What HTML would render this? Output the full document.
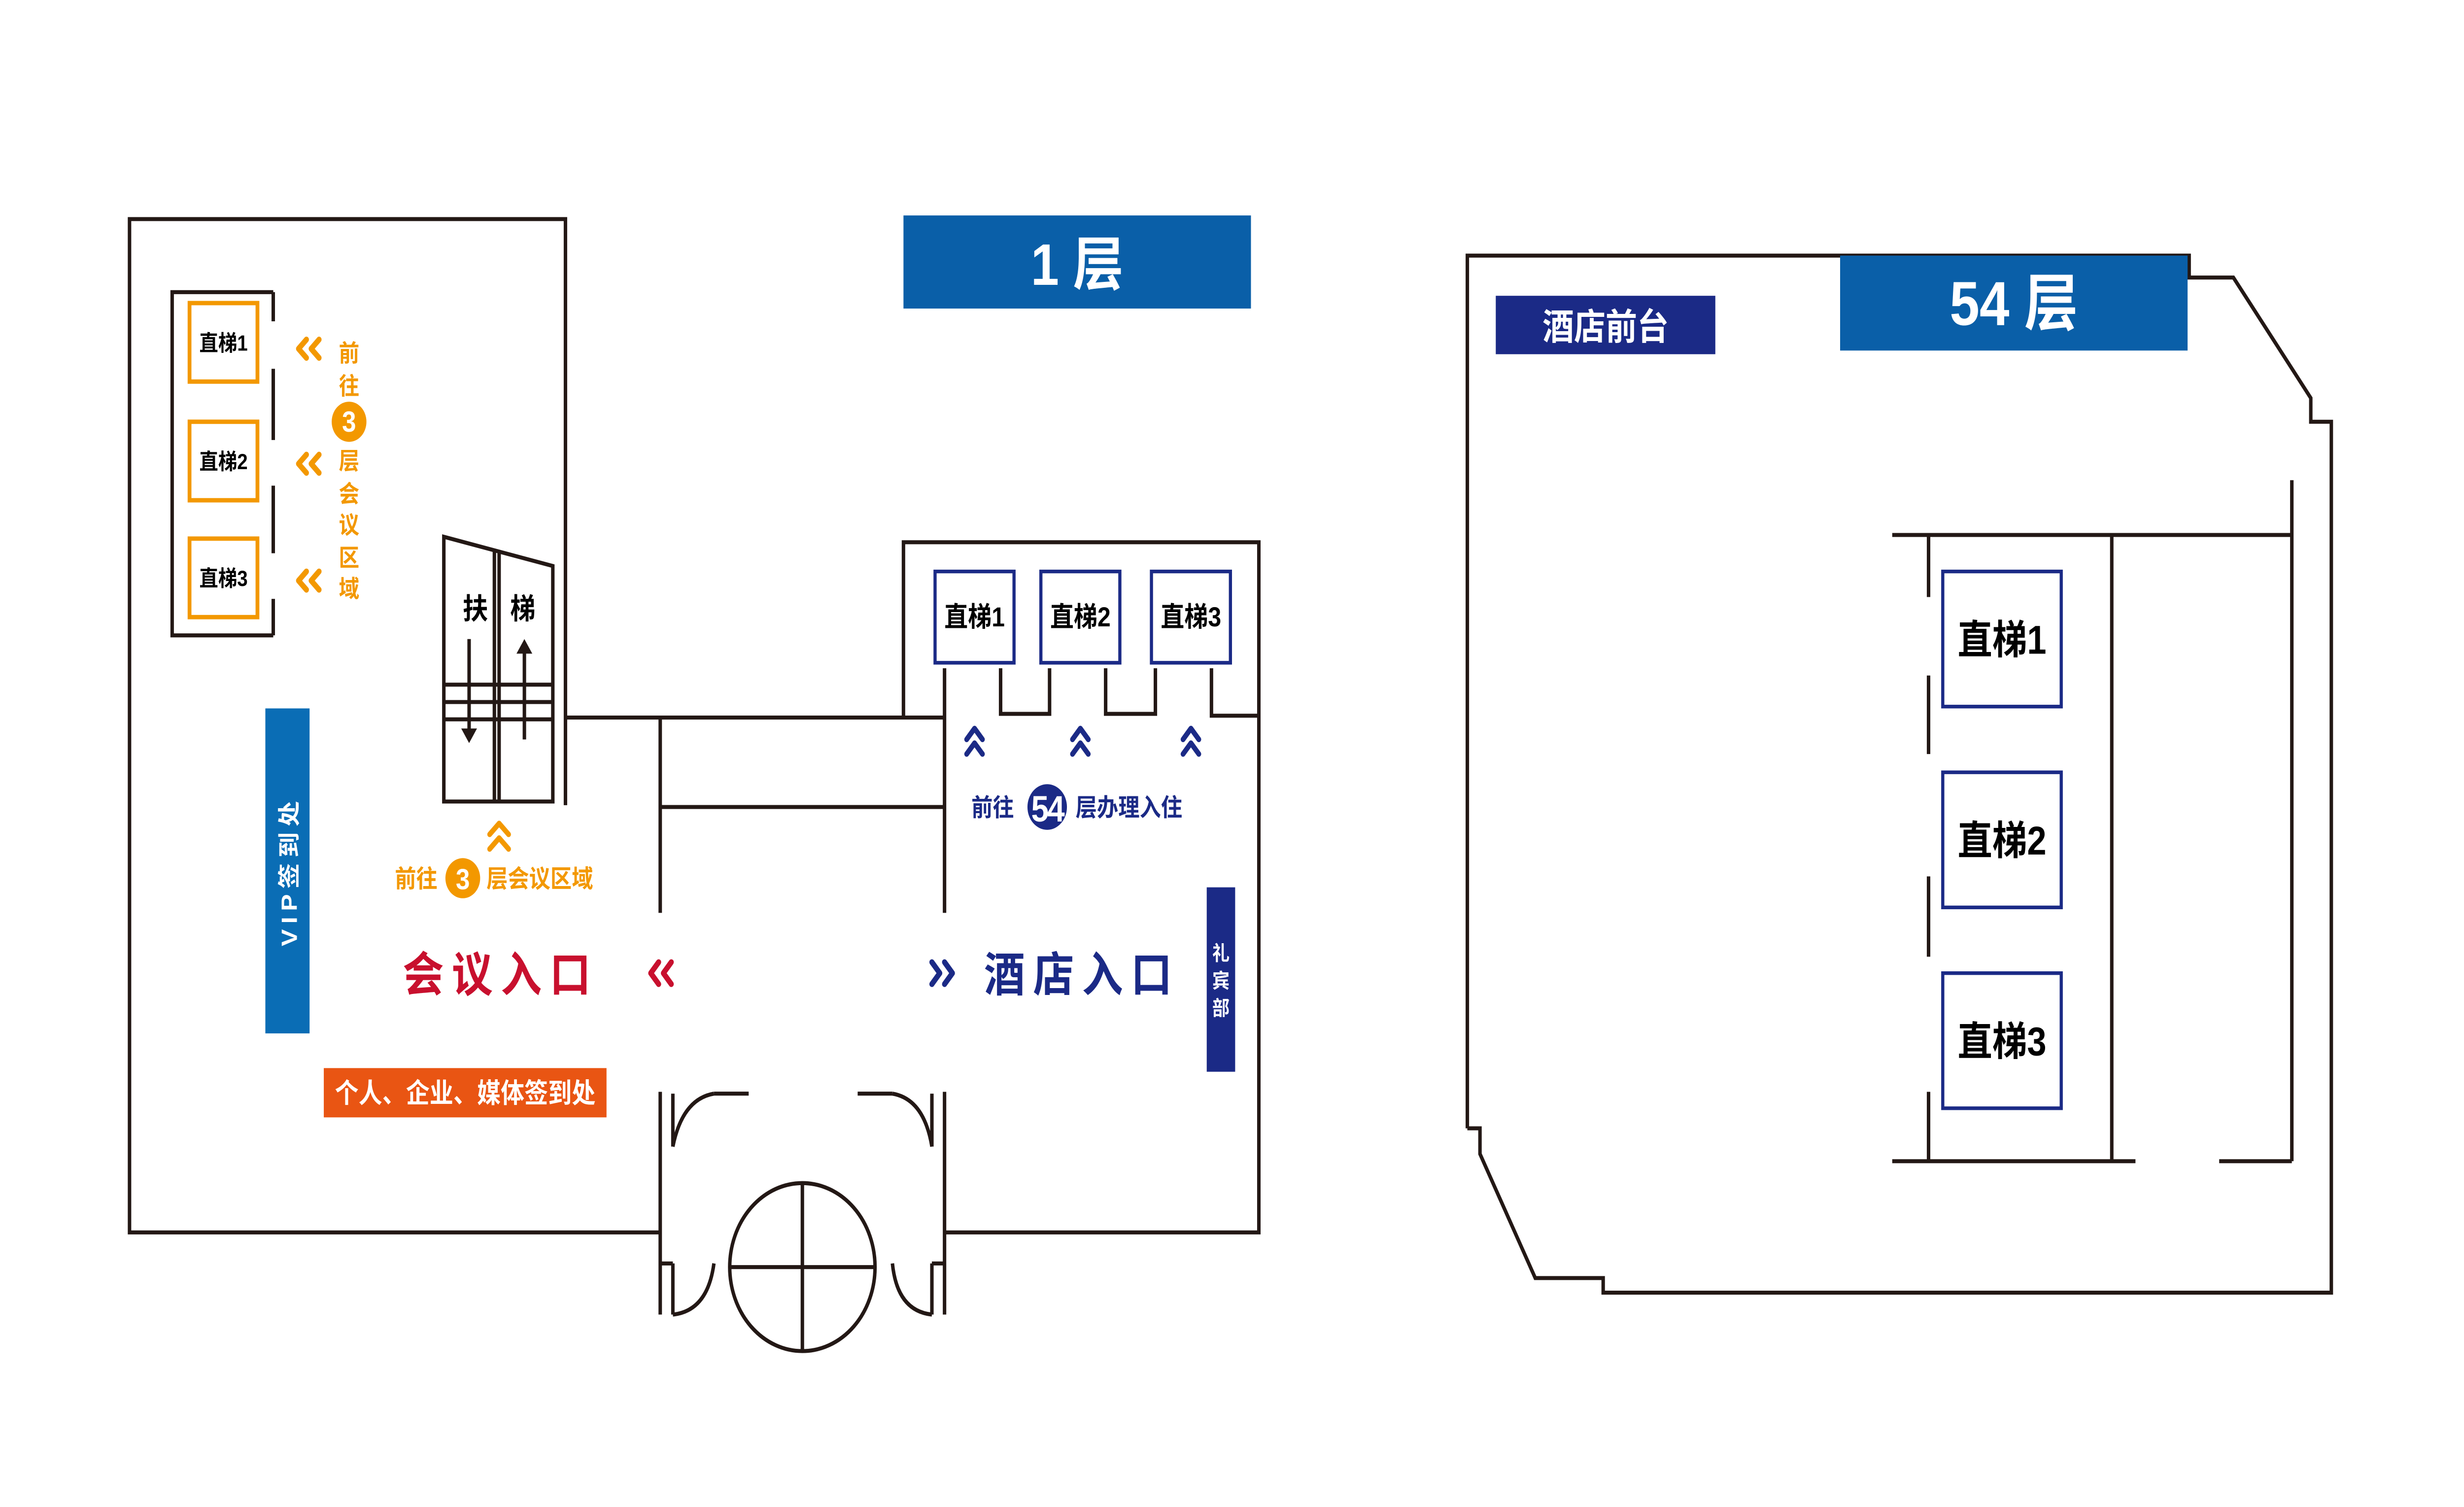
<!DOCTYPE html>
<html><head><meta charset="utf-8"><style>
html,body{margin:0;padding:0;background:#fff;width:100%;height:100%;overflow:hidden}
svg{display:block;position:fixed;left:0;top:0;width:100vw;height:100vh}
text{font-family:"Liberation Sans","Noto Sans CJK SC",sans-serif;font-weight:bold}
</style></head><body>
<svg viewBox="0 0 1560 825.4" preserveAspectRatio="none" xmlns="http://www.w3.org/2000/svg">
<rect width="1560" height="825.4" fill="#fff"/>
<g fill="none" stroke="#231815" stroke-width="2.2">
<polyline points="358,441 358,120 82,120 82,675 418,675"/>
<line x1="358" y1="393" x2="598" y2="393"/>
<line x1="418" y1="442" x2="598" y2="442"/>
<line x1="418" y1="393" x2="418" y2="500"/>
<line x1="598" y1="366" x2="598" y2="500"/>
<line x1="418" y1="598" x2="418" y2="720"/>
<line x1="598" y1="598" x2="598" y2="720"/>
<polyline points="572,393 572,297 797,297 797,675 598,675"/>
<polyline points="633.5,366 633.5,391 664.5,391 664.5,366"/>
<polyline points="700,366 700,391 731.5,391 731.5,366"/>
<polyline points="767,366 767,392 797,392"/>
<polyline points="173,160 109,160 109,348 173,348"/>
<line x1="173" y1="160" x2="173" y2="176"/>
<line x1="173" y1="202" x2="173" y2="241"/>
<line x1="173" y1="266" x2="173" y2="303"/>
<line x1="173" y1="328" x2="173" y2="348"/>
<polygon points="281,294 350,310 350,439 281,439"/>
<line x1="313" y1="302" x2="313" y2="439"/>
<line x1="316" y1="303" x2="316" y2="439"/>
<line x1="281" y1="375" x2="350" y2="375"/>
<line x1="281" y1="384.5" x2="350" y2="384.5"/>
<line x1="281" y1="394" x2="350" y2="394"/>
<line x1="297" y1="350" x2="297" y2="402"/>
<line x1="332" y1="355" x2="332" y2="405"/>
<line x1="452" y1="599" x2="474" y2="599"/>
<path d="M452,599 Q432,602 426,628"/>
<line x1="426" y1="599" x2="426" y2="628"/>
<line x1="543" y1="599" x2="565" y2="599"/>
<path d="M565,599 Q585,602 590,628"/>
<line x1="590" y1="599" x2="590" y2="628"/>
<line x1="426" y1="692" x2="426" y2="720"/>
<path d="M426,720 Q448,718 452,692"/>
<line x1="590" y1="692" x2="590" y2="720"/>
<path d="M590,720 Q568,718 565,692"/>
<line x1="418" y1="692" x2="426" y2="692"/>
<line x1="590" y1="692" x2="598" y2="692"/>
<circle cx="508" cy="694" r="46"/>
<line x1="462" y1="694" x2="554" y2="694"/>
<line x1="508" y1="648" x2="508" y2="740"/>
<polyline points="929,618 929,140 1386,140 1386,152 1414,152 1463,218 1463,231 1476,231 1476,708 1015,708 1015,700 972,700 937,632 937,618 929,618"/>
<line x1="1198" y1="293" x2="1451" y2="293"/>
<line x1="1451" y1="263" x2="1451" y2="636"/>
<line x1="1198" y1="636" x2="1352" y2="636"/>
<line x1="1405" y1="636" x2="1451" y2="636"/>
<line x1="1337" y1="293" x2="1337" y2="636"/>
<line x1="1221" y1="293" x2="1221" y2="327"/>
<line x1="1221" y1="370" x2="1221" y2="413"/>
<line x1="1221" y1="480" x2="1221" y2="524"/>
<line x1="1221" y1="598" x2="1221" y2="636"/>
</g>
<polygon points="297,407 292,399 302,399" fill="#231815"/>
<polygon points="332,350 327,358 337,358" fill="#231815"/>

<g fill="none" stroke="#f39800" stroke-width="2.4">
<rect x="120" y="166" width="43" height="43"/>
<rect x="120" y="231" width="43" height="43"/>
<rect x="120" y="295" width="43" height="43"/>
</g>
<g font-size="12" fill="#000" text-anchor="middle">
<text x="141.5" y="192">直梯1</text>
<text x="141.5" y="257">直梯2</text>
<text x="141.5" y="321">直梯3</text>
</g>
<g fill="none" stroke="#f39800" stroke-width="3.2" stroke-linecap="round" stroke-linejoin="round">
<polyline points="194,186 189,191 194,196"/><polyline points="202,186 197,191 202,196"/>
<polyline points="194,249 189,254 194,259"/><polyline points="202,249 197,254 202,259"/>
<polyline points="194,313 189,318 194,323"/><polyline points="202,313 197,318 202,323"/>
</g>
<g fill="#f39800" font-size="13" text-anchor="middle">
<text x="221" y="198">前</text>
<text x="221" y="216">往</text>
<circle cx="221" cy="231" r="11" fill="#f39800"/>
<text x="221" y="236.5" fill="#fff" font-size="16">3</text>
<text x="221" y="257">层</text>
<text x="221" y="275">会</text>
<text x="221" y="292">议</text>
<text x="221" y="310">区</text>
<text x="221" y="327">域</text>
</g>
<g font-size="16" fill="#000" text-anchor="middle">
<text x="301" y="339">扶</text>
<text x="331" y="339">梯</text>
</g>
<g fill="none" stroke="#f39800" stroke-width="3" stroke-linecap="round" stroke-linejoin="round">
<polyline points="310,457 316,451 322,457"/>
<polyline points="310,465 316,459 322,465"/>
</g>
<g fill="#f39800" font-size="13.5">
<text x="250" y="486">前往</text>
<circle cx="293" cy="481" r="11" fill="#f39800"/>
<text x="293" y="487" fill="#fff" font-size="16" text-anchor="middle">3</text>
<text x="308" y="486">层会议区域</text>
</g>
<rect x="168" y="388" width="28" height="178" fill="#0a6db5"/>
<text transform="translate(188,477) rotate(-90)" text-anchor="middle" fill="#fff" font-size="14" letter-spacing="3">VIP签到处</text>
<text x="255" y="543" fill="#c8102e" font-size="26" letter-spacing="5">会议入口</text>
<g fill="none" stroke="#c8102e" stroke-width="3.2" stroke-linecap="round" stroke-linejoin="round">
<polyline points="417,527 412,533 417,539"/><polyline points="425,527 420,533 425,539"/>
</g>
<g fill="none" stroke="#1b2a86" stroke-width="3.2" stroke-linecap="round" stroke-linejoin="round">
<polyline points="590,527 595,533 590,539"/><polyline points="598,527 603,533 598,539"/>
</g>
<text x="623" y="543" fill="#1b2a86" font-size="26" letter-spacing="5">酒店入口</text>
<rect x="764" y="486" width="18" height="101" fill="#1b2a86"/>
<g fill="#fff" font-size="11" text-anchor="middle">
<text x="773" y="526">礼</text>
<text x="773" y="541">宾</text>
<text x="773" y="556">部</text>
</g>
<rect x="205" y="585" width="179" height="27" fill="#e95513"/>
<text x="294.5" y="604" fill="#fff" font-size="15" text-anchor="middle">个人、企业、媒体签到处</text>
<rect x="572" y="118" width="220" height="51" fill="#0a5fa8"/>
<text x="682" y="156" fill="#fff" font-size="32" text-anchor="middle">1 层</text>
<g fill="none" stroke="#1b2a86" stroke-width="2">
<rect x="592" y="313" width="50" height="50"/>
<rect x="659" y="313" width="50" height="50"/>
<rect x="729" y="313" width="50" height="50"/>
</g>
<g font-size="15" fill="#000" text-anchor="middle">
<text x="617" y="343">直梯1</text>
<text x="684" y="343">直梯2</text>
<text x="754" y="343">直梯3</text>
</g>
<g fill="none" stroke="#1b2a86" stroke-width="3" stroke-linecap="round" stroke-linejoin="round">
<polyline points="612,405 617,399 622,405"/><polyline points="612,413 617,407 622,413"/>
<polyline points="679,405 684,399 689,405"/><polyline points="679,413 684,407 689,413"/>
<polyline points="749,405 754,399 759,405"/><polyline points="749,413 754,407 759,413"/>
</g>
<g fill="#1b2a86" font-size="13.5">
<text x="615" y="447">前往</text>
<circle cx="663" cy="442" r="12.5" fill="#1b2a86"/>
<text x="663" y="450" fill="#fff" font-size="20" text-anchor="middle" letter-spacing="-1">54</text>
<text x="681" y="447">层办理入住</text>
</g>
<rect x="1165" y="140" width="220" height="52" fill="#0a5fa8"/>
<text x="1275" y="178" fill="#fff" font-size="34" text-anchor="middle">54 层</text>
<rect x="947" y="162" width="139" height="32" fill="#1b2a86"/>
<text x="1016.5" y="186" fill="#fff" font-size="20" text-anchor="middle">酒店前台</text>
<g fill="none" stroke="#1b2a86" stroke-width="2">
<rect x="1230" y="313" width="75" height="74"/>
<rect x="1230" y="423" width="75" height="74"/>
<rect x="1230" y="533" width="75" height="74"/>
</g>
<g font-size="22" fill="#000" text-anchor="middle">
<text x="1267.5" y="358">直梯1</text>
<text x="1267.5" y="468">直梯2</text>
<text x="1267.5" y="578">直梯3</text>
</g>
</svg>
</body></html>
